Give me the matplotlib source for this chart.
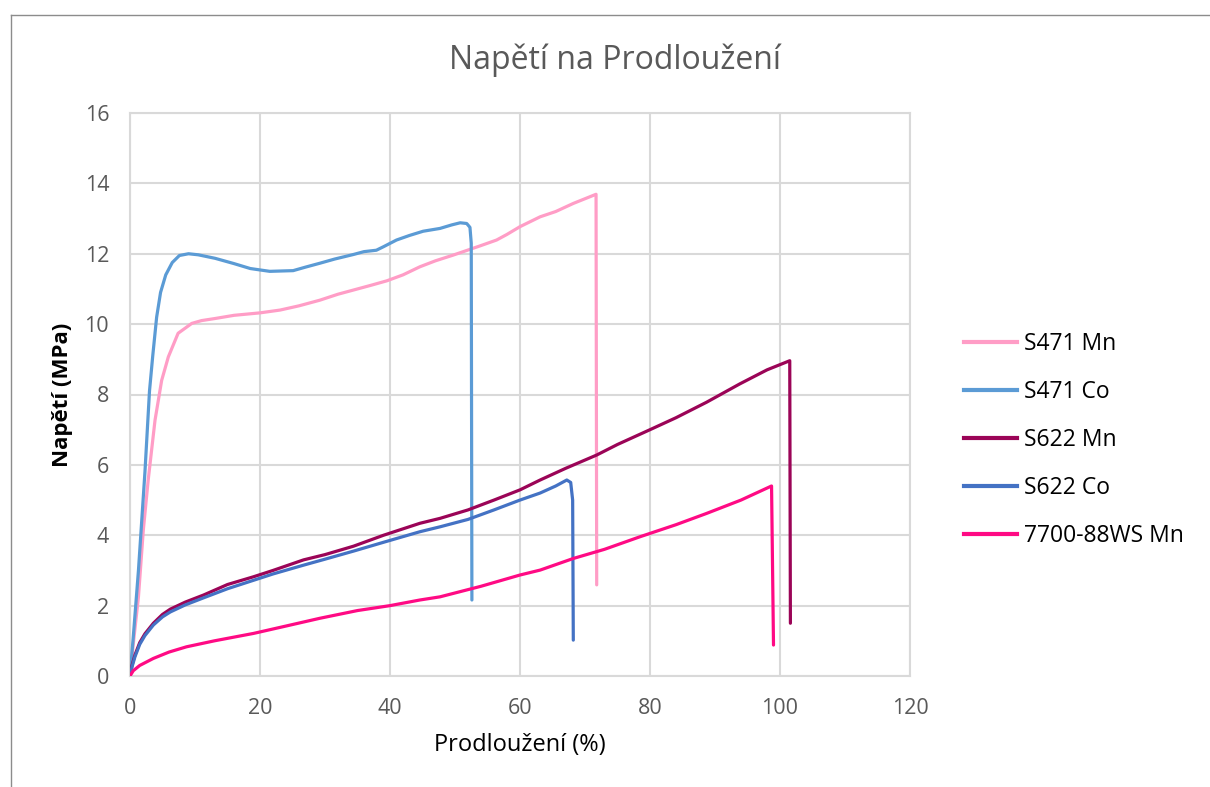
import matplotlib
matplotlib.use("Agg")
import matplotlib.pyplot as plt
from matplotlib.lines import Line2D

plt.rcParams['font.family'] = ['Open Sans', 'DejaVu Sans']

title = "Napětí na Prodloužení"
xlabel = "Prodloužení (%)"
ylabel = "Napětí (MPa)"
x_ticks = [0, 20, 40, 60, 80, 100, 120]
y_ticks = [0, 2, 4, 6, 8, 10, 12, 14, 16]

labels = ["S471 Mn", "S471 Co", "S622 Mn", "S622 Co", "7700-88WS Mn"]
colors = ["#FF9DC6", "#5B9BD5", "#9B0457", "#4472C4", "#FF0A84"]

s471mn_x = [0, 0.5, 1.3, 2.05, 2.8, 3.85, 4.87, 5.9, 7.4, 9.5, 11, 13.1, 16, 20, 23.1, 26,
            29.2, 32, 34.4, 37, 39.5, 42, 44.6, 47, 49.7, 53.8, 56.4, 58, 60, 63.1, 65.5,
            68.2, 71.7, 71.8]
s471mn_y = [0, 0.9, 2.25, 4.15, 5.57, 7.27, 8.4, 9.07, 9.74, 10.02, 10.1, 10.16, 10.25, 10.32,
            10.4, 10.52, 10.68, 10.85, 10.97, 11.1, 11.23, 11.4, 11.63, 11.8, 11.96, 12.22,
            12.39, 12.55, 12.77, 13.05, 13.2, 13.43, 13.69, 2.59]

s471co_x = [0, 0.5, 1.3, 2.3, 3.0, 3.5, 4.1, 4.7, 5.5, 6.5, 7.6, 9.0, 10.5, 13.1, 16, 18.5,
            21.5, 25.1, 27, 29.2, 31.5, 34.4, 36, 37.9, 39, 41, 43, 45.1, 47.7, 49.5, 50.8,
            51.8, 52.3, 52.5, 52.6]
s471co_y = [0, 1.1, 3.0, 5.8, 8.1, 9.1, 10.2, 10.9, 11.4, 11.75, 11.95, 12.0, 11.97, 11.87,
            11.72, 11.58, 11.5, 11.52, 11.62, 11.73, 11.85, 11.98, 12.06, 12.1, 12.2, 12.39,
            12.52, 12.64, 12.72, 12.82, 12.88, 12.86, 12.75, 12.3, 2.16]

s622mn_x = [0, 0.3, 0.77, 1.5, 2.3, 3.6, 5, 6.2, 8.5, 11.3, 15, 19, 22, 26.7, 30, 34.4, 39,
            44.6, 47.7, 52, 56, 60, 63.1, 67, 71.8, 75, 80, 84, 88.7, 93.8, 98, 101.5, 101.6]
s622mn_y = [0, 0.3, 0.6, 0.95, 1.2, 1.5, 1.75, 1.9, 2.1, 2.3, 2.6, 2.82, 3.0, 3.3, 3.45, 3.69,
            4.0, 4.34, 4.48, 4.72, 5.0, 5.29, 5.57, 5.9, 6.28, 6.58, 7.0, 7.34, 7.78, 8.3,
            8.7, 8.96, 1.5]

s622co_x = [0, 0.3, 0.77, 1.5, 2.3, 3.6, 5, 6.2, 8.5, 11.3, 15, 19, 22, 26.7, 30, 34.4, 39,
            44.6, 47.7, 52, 56, 60, 63.1, 65.5, 67.2, 67.8, 68.1, 68.2]
s622co_y = [0, 0.25, 0.55, 0.9, 1.15, 1.45, 1.68, 1.82, 2.02, 2.22, 2.48, 2.72, 2.9, 3.15,
            3.32, 3.55, 3.8, 4.1, 4.24, 4.45, 4.72, 5.0, 5.2, 5.4, 5.57, 5.5, 5.0, 1.02]

s7700_x = [0, 0.5, 1.5, 3.6, 6, 8.7, 13, 19, 24, 29.2, 35, 40, 44.6, 47.7, 54, 60, 63.1, 68.2,
           73, 78.5, 84, 88.7, 94, 98.7, 99]
s7700_y = [0, 0.15, 0.3, 0.5, 0.68, 0.83, 1.0, 1.21, 1.42, 1.64, 1.86, 2.0, 2.16, 2.25, 2.55,
           2.87, 3.01, 3.34, 3.6, 3.96, 4.3, 4.62, 5.0, 5.4, 0.88]

series = [(s471mn_x, s471mn_y), (s471co_x, s471co_y), (s622mn_x, s622mn_y),
          (s622co_x, s622co_y), (s7700_x, s7700_y)]

W, H = 1210, 787
fig = plt.figure(figsize=(W / 100, H / 100), dpi=100)
ax = fig.add_axes([130 / W, 1 - 676 / H, 780 / W, 563 / H])

grid_c = "#D9D9D9"
for (xs, ys), c, lab in zip(series, colors, labels):
    ax.plot(xs, ys, color=c, lw=2.3, label=lab, solid_joinstyle='round',
            solid_capstyle='round', zorder=3)

ax.set_xlim(0, 120)
ax.set_ylim(0, 16)
ax.set_xticks(x_ticks)
ax.set_yticks(y_ticks)
ax.grid(True, color=grid_c, lw=1.5, zorder=0)
for s in ax.spines.values():
    s.set_color(grid_c)
    s.set_linewidth(1.5)
ax.tick_params(length=0, labelsize=15.5, labelcolor="#595959")
ax.tick_params(axis='y', pad=15)
ax.tick_params(axis='x', pad=16)

ax.set_xlabel(xlabel, fontsize=17, color="#000000", labelpad=10)
ax.set_ylabel(ylabel, fontsize=16, color="#000000", fontweight='bold', labelpad=8)

fig.text(615 / W, 1 - 60 / H, title, fontsize=23, color="#595959",
         ha='center', va='center')

handles = [Line2D([0], [0], color=c, lw=3) for c in colors]
fig.legend(handles, labels, loc='center left', bbox_to_anchor=(964 / W, 1 - 440 / H),
           frameon=False, fontsize=16.5, handlelength=2.3, handletextpad=0.3,
           labelspacing=1.05, borderaxespad=0, borderpad=0)

# chart border
fig.add_artist(Line2D([11 / W, 1.0], [1 - 15 / H, 1 - 15 / H], color="#8C8C8C", lw=1,
                      transform=fig.transFigure))
fig.add_artist(Line2D([11 / W, 11 / W], [0, 1 - 15 / H], color="#8C8C8C", lw=1,
                      transform=fig.transFigure))

fig.savefig("out.png", dpi=100)
